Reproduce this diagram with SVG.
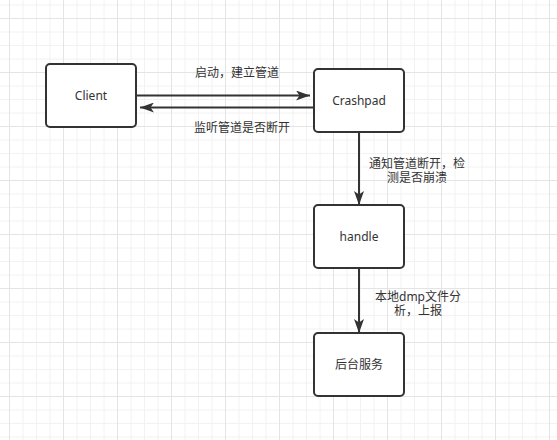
<svg xmlns="http://www.w3.org/2000/svg" width="557" height="440" viewBox="0 0 557 440">
<style>
.node rect{fill:#ffffff;stroke:#333333;stroke-width:2}
.node text,.lbl{font-family:"Noto Sans","Noto Sans CJK SC",sans-serif;font-size:12px;fill:#333333;text-anchor:middle;dominant-baseline:central}
.edge{stroke:#333333;stroke-width:2;fill:none;marker-end:url(#arr)}
</style>
<defs>
<pattern id="grid" patternUnits="userSpaceOnUse" width="54" height="54" x="9" y="18">
<g stroke="#f2f2f2" stroke-width="1">
<line x1="14" y1="0" x2="14" y2="54"/><line x1="27.5" y1="0" x2="27.5" y2="54"/><line x1="41" y1="0" x2="41" y2="54"/>
<line x1="0" y1="14" x2="54" y2="14"/><line x1="0" y1="27.5" x2="54" y2="27.5"/><line x1="0" y1="41" x2="54" y2="41"/>
</g>
<g stroke="#e4e4e4" stroke-width="1">
<line x1="0.5" y1="0" x2="0.5" y2="54"/><line x1="0" y1="0.5" x2="54" y2="0.5"/>
</g>
</pattern>
<marker id="arr" viewBox="0 0 14 10" refX="14" refY="5" markerWidth="14" markerHeight="10" markerUnits="userSpaceOnUse" orient="auto">
<path d="M0,0 L14,5 L0,10 L3.5,5 Z" fill="#333333"/>
</marker>
</defs>
<rect x="0" y="0" width="557" height="440" fill="#ffffff"/>
<rect x="0" y="0" width="557" height="440" fill="url(#grid)"/>
<g id="connectors">
<line class="edge" x1="137" y1="95.5" x2="310" y2="95.5"/>
<line class="edge" x1="314" y1="107.5" x2="140" y2="107.5"/>
<line class="edge" x1="359" y1="133" x2="359" y2="205"/>
<line class="edge" x1="359" y1="268" x2="359" y2="333"/>
<text class="lbl" x="237" y="72">启动，建立管道</text>
<text class="lbl" x="242" y="127">监听管道是否断开</text>
<text class="lbl"><tspan x="417" y="163">通知管道断开，检</tspan><tspan x="417" y="177">测是否崩溃</tspan></text>
<text class="lbl"><tspan x="418" y="296">本地dmp文件分</tspan><tspan x="418" y="310">析，上报</tspan></text>
</g>
<g id="client" class="node"><rect x="46" y="64" width="90" height="63" rx="4"/><text x="91" y="95.5">Client</text></g>
<g id="crashpad" class="node"><rect x="314" y="69" width="90" height="63" rx="4"/><text x="359" y="100.5">Crashpad</text></g>
<g id="handle" class="node"><rect x="314" y="205" width="90" height="63" rx="4"/><text x="359" y="236.5">handle</text></g>
<g id="backend" class="node"><rect x="314" y="333" width="90" height="63" rx="4"/><text x="359" y="364.5">后台服务</text></g>
</svg>
